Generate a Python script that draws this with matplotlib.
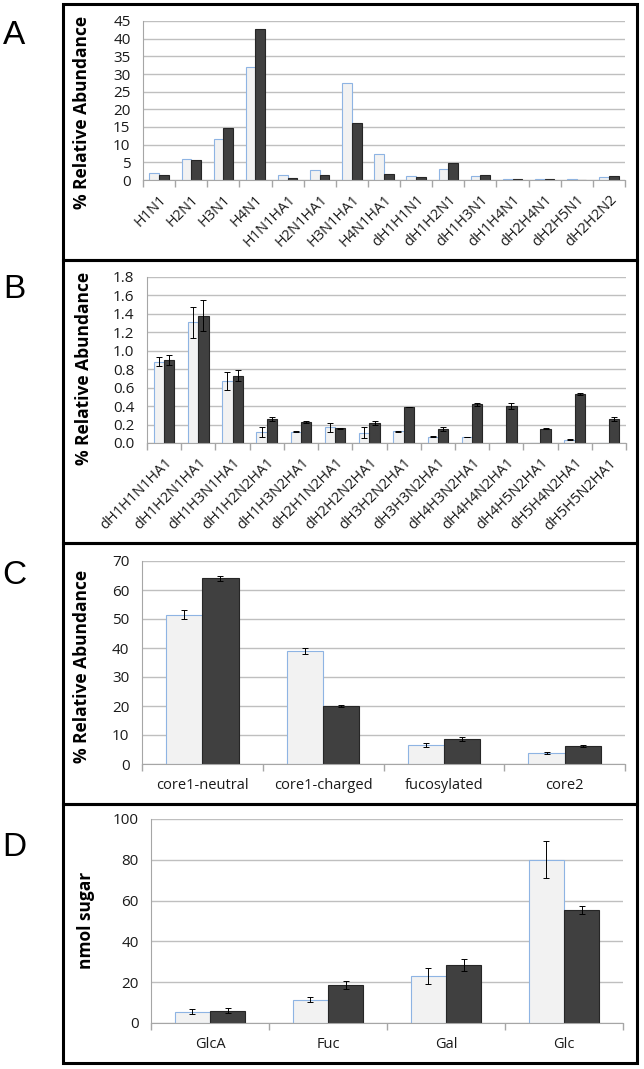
import matplotlib
matplotlib.use("Agg")
import matplotlib.pyplot as plt
import numpy as np
from matplotlib.patches import Rectangle

plt.rcParams['font.family'] = ['Open Sans', 'DejaVu Sans']

# ---- panel A ----
a_labels = ['H1N1', 'H2N1', 'H3N1', 'H4N1', 'H1N1HA1', 'H2N1HA1', 'H3N1HA1',
            'H4N1HA1', 'dH1H1N1', 'dH1H2N1', 'dH1H3N1', 'dH1H4N1', 'dH2H4N1',
            'dH2H5N1', 'dH2H2N2']
a_light = [2.0, 5.9, 11.6, 32.1, 1.4, 2.7, 27.5, 7.4, 1.2, 3.2, 1.1, 0.25, 0.2, 0.15, 0.9]
a_dark = [1.4, 5.6, 14.6, 42.6, 0.7, 1.5, 16.2, 1.7, 0.9, 4.9, 1.4, 0.25, 0.2, 0.0, 1.2]

# ---- panel B ----
b_labels = ['dH1H1N1HA1', 'dH1H2N1HA1', 'dH1H3N1HA1', 'dH1H2N2HA1', 'dH1H3N2HA1',
            'dH2H1N2HA1', 'dH2H2N2HA1', 'dH3H2N2HA1', 'dH3H3N2HA1', 'dH4H3N2HA1',
            'dH4H4N2HA1', 'dH4H5N2HA1', 'dH5H4N2HA1', 'dH5H5N2HA1']
b_light = [0.88, 1.31, 0.67, 0.12, 0.12, 0.17, 0.11, 0.125, 0.07, 0.065, 0.0, 0.0, 0.035, 0.0]
b_light_err = [0.05, 0.17, 0.10, 0.05, 0.005, 0.05, 0.06, 0.005, 0.01, 0.003, 0.0, 0.0, 0.005, 0.0]
b_dark = [0.90, 1.38, 0.73, 0.26, 0.23, 0.16, 0.22, 0.39, 0.15, 0.42, 0.40, 0.155, 0.53, 0.26]
b_dark_err = [0.05, 0.17, 0.06, 0.02, 0.01, 0.005, 0.02, 0.005, 0.02, 0.015, 0.03, 0.003, 0.01, 0.025]

# ---- panel C ----
c_labels = ['core1-neutral', 'core1-charged', 'fucosylated', 'core2']
c_light = [51.5, 39.0, 6.5, 3.8]
c_light_err = [1.5, 1.0, 0.7, 0.4]
c_dark = [64.0, 20.0, 8.7, 6.1]
c_dark_err = [1.0, 0.2, 0.6, 0.3]

# ---- panel D ----
d_labels = ['GlcA', 'Fuc', 'Gal', 'Glc']
d_light = [5.5, 11.5, 23.0, 80.0]
d_light_err = [1.3, 1.3, 4.0, 9.0]
d_dark = [6.0, 18.5, 28.5, 55.5]
d_dark_err = [1.2, 2.0, 2.8, 2.0]

W, H = 644, 1069
fig = plt.figure(figsize=(W / 100, H / 100), dpi=100)


def px_axes(left, right, top, bottom):
    return fig.add_axes([left / W, 1 - bottom / H, (right - left) / W, (bottom - top) / H])


def draw(ax, box, labels, light, dark, ymax, step, light_err=None, dark_err=None,
         rotate=False, ylabel='% Relative Abundance', fmt='{:g}', label_xy=(91, 0)):
    n = len(labels)
    x = np.arange(n)
    bw = 0.3
    ax.set_axisbelow(True)
    ax.bar(x - bw / 2, light, bw, color='#f2f2f2', edgecolor='#8eb4e3', lw=0.8)
    ax.bar(x + bw / 2, dark, bw, color='#404040', edgecolor='#262626', lw=0.8)
    if light_err is not None:
        ax.errorbar(x - bw / 2, light, yerr=light_err, fmt='none', ecolor='black',
                    elinewidth=0.7, capsize=2.5, capthick=0.7)
        ax.errorbar(x + bw / 2, dark, yerr=dark_err, fmt='none', ecolor='black',
                    elinewidth=0.7, capsize=2.5, capthick=0.7)
    ax.set_xlim(-0.5, n - 0.5)
    ax.set_ylim(0, ymax)
    yt = np.arange(0, ymax + step / 2, step)
    ax.set_yticks(yt, [fmt.format(v) for v in yt])
    ax.yaxis.grid(True, color='#bfbfbf', lw=1)
    ax.tick_params(axis='y', length=0, labelsize=11, pad=9, colors='#1a1a1a')
    ax.set_xticks(x)
    if rotate:
        ax.set_xticklabels(labels, rotation=45, ha='right', rotation_mode='anchor',
                           fontsize=10.5)
        ax.tick_params(axis='x', length=0, pad=9, colors='#1a1a1a')
    else:
        ax.set_xticklabels(labels, fontsize=10.5)
        ax.tick_params(axis='x', length=0, pad=10, colors='#1a1a1a')
    ax.set_xticks(np.arange(-0.5, n), minor=True)
    ax.tick_params(axis='x', which='minor', length=5, color='#a6a6a6', width=1)
    for s in ['top', 'right']:
        ax.spines[s].set_visible(False)
    for s in ['left', 'bottom']:
        ax.spines[s].set_color('#a6a6a6')
    ax.set_ylabel(ylabel, fontsize=12.5, fontweight='bold')
    left, right, top, bottom = box
    lx, ly = label_xy
    ax.yaxis.set_label_coords((lx - left) / (right - left), (bottom - ly) / (bottom - top))


boxA = (143, 625, 21, 180)
axA = px_axes(*boxA)
draw(axA, boxA, a_labels, a_light, a_dark, 45, 5, rotate=True, label_xy=(91, 112))

boxB = (147, 626, 277, 443)
axB = px_axes(*boxB)
draw(axB, boxB, b_labels, b_light, b_dark, 1.8, 0.2, b_light_err, b_dark_err,
     rotate=True, fmt='{:.1f}', label_xy=(93, 368))

boxC = (142, 625, 561, 764)
axC = px_axes(*boxC)
draw(axC, boxC, c_labels, c_light, c_dark, 70, 10, c_light_err, c_dark_err,
     label_xy=(91, 666))

boxD = (151, 623, 819, 1023)
axD = px_axes(*boxD)
draw(axD, boxD, d_labels, d_light, d_dark, 100, 20, d_light_err, d_dark_err,
     ylabel='nmol sugar', label_xy=(95, 920))

# panel frames and letters
frames = [(4, 260, 'A', 35), (260, 543, 'B', 290), (543, 804, 'C', 575), (804, 1063, 'D', 847)]
for top, bottom, letter, ly in frames:
    fig.add_artist(Rectangle((63 / W, 1 - bottom / H), (637 - 63) / W, (bottom - top) / H,
                             transform=fig.transFigure, fill=False, ec='black', lw=2.2))
    fig.text(14 / W, 1 - ly / H, letter, fontsize=24, family='Liberation Sans',
             ha='center', va='center')

fig.savefig('out.png', dpi=100)
